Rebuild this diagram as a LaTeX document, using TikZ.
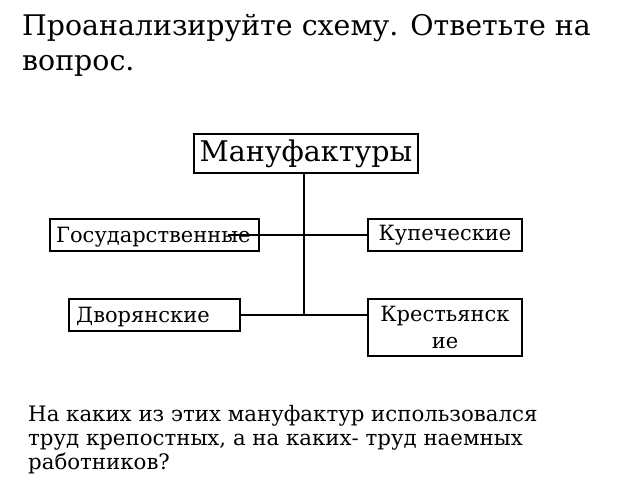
\documentclass[tikz,border=0pt]{standalone}
\usepackage{fontspec}
\setmainfont{DejaVu Serif}
\begin{document}
\begin{tikzpicture}[x=1pt,y=-1pt,
 box/.style={draw,line width=1.5pt,inner sep=0pt},
 ln/.style={line width=1.5pt},
 lab/.style={font=\fontsize{21}{24}\selectfont}]
\useasboundingbox (0,0) rectangle (640,480);
\node[anchor=north west,align=left,font=\fontsize{28.4}{35}\selectfont,inner sep=0pt] (t) at (22,14) {Проанализируйте схему. Ответьте на\\вопрос.};
\node[box,minimum width=224,minimum height=39,font=\fontsize{28.5}{30}\selectfont] (m) at (306,153.5) {Мануфактуры};
\node[box,minimum width=154,minimum height=32,lab] (k) at (445,235) {Купеческие};
\node[box,minimum width=154,minimum height=57,lab,align=center,font=\fontsize{21}{27}\selectfont] (kr) at (445,327.5) {Крестьянск\\ие};
\coordinate (j1) at (304,235);
\coordinate (j2) at (304,315);
\draw[ln] (m.south -| j1) -- (j2);
\node[box,minimum width=209,minimum height=32] (g) at (154.5,235) {};
\node[lab,anchor=west,inner sep=0pt] (gt) at (56,237) {Государственные};
\draw[ln] (228,235) -- (k.west);
\node[box,minimum width=171,minimum height=32] (d) at (154.5,315) {};
\node[lab,anchor=west,inner sep=0pt] (dt) at (76,317) {Дворянские};
\draw[ln] (d.east) -- (j2) -- (kr.west |- j2);
\node[anchor=north west,align=left,font=\fontsize{21.3}{24}\selectfont,inner sep=0pt] (q) at (28,405) {На каких из этих мануфактур использовался\\труд крепостных, а на каких- труд наемных\\работников?};
\end{tikzpicture}
\end{document}
